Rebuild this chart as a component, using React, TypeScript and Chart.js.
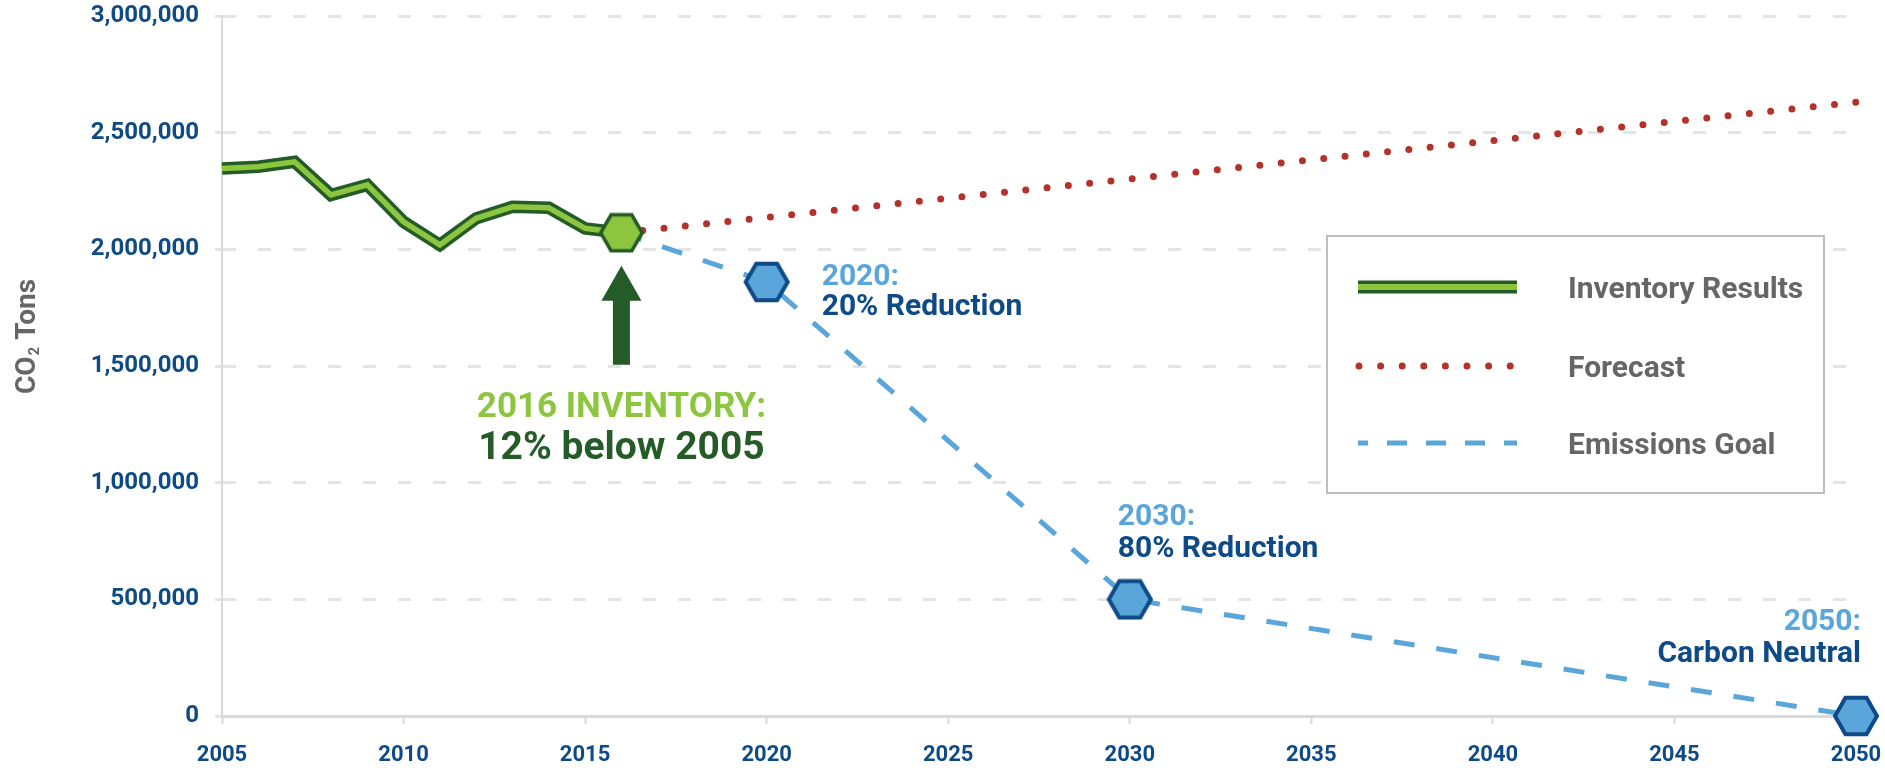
import React, { useEffect, useRef } from 'react';
import { Chart, registerables } from 'chart.js';

Chart.register(...registerables);

// ---------- data ----------
const inventoryYears = [2005, 2006, 2007, 2008, 2009, 2010, 2011, 2012, 2013, 2014, 2015, 2016];
const inventoryValues = [2346000, 2354000, 2375000, 2233000, 2276000, 2118000, 2019000, 2133000, 2182000, 2178000, 2090000, 2071000];
const forecastYears = [2016, 2050];
const forecastValues = [2071000, 2630000];
const goalYears = [2016, 2020, 2030, 2050];
const goalValues = [2071000, 1860000, 500000, 0];
const xTickValues = [2005, 2010, 2015, 2020, 2025, 2030, 2035, 2040, 2045, 2050];
const yTickValues = [0, 500000, 1000000, 1500000, 2000000, 2500000, 3000000];
const legendLabels = ['Inventory Results', 'Forecast', 'Emissions Goal'];
const yAxisTitle = ['CO', '2', ' Tons'];
const inventoryNote = ['2016 INVENTORY:', '12% below 2005'];
const goalNoteHeads = ['2020:', '2030:', '2050:'];
const goalNoteBodies = ['20% Reduction', '80% Reduction', 'Carbon Neutral'];

// ---------- style ----------
const DARK_BLUE = '#0d4a86';
const LIGHT_BLUE = '#5aa6da';
const LIGHT_GREEN = '#8cc63f';
const DARK_GREEN = '#245b27';
const RED = '#b3332b';
const GREY = '#666666';
const FONT = 'Roboto, "Open Sans", "Liberation Sans", sans-serif';
const f = (size: number) => `bold ${size}px ${FONT}`;

function makeHex(r: number, fill: string, stroke: string, lw: number): HTMLCanvasElement {
  const w = Math.ceil(2 * r + 2);
  const h = Math.ceil(Math.sqrt(3) * r + 2);
  const c = document.createElement('canvas');
  c.width = w;
  c.height = h;
  const g = c.getContext('2d')!;
  const cx = w / 2;
  const cy = h / 2;
  const rr = r - lw / 2;
  g.beginPath();
  for (let i = 0; i < 6; i++) {
    const a = (Math.PI / 3) * i;
    const px = cx + rr * Math.cos(a);
    const py = cy + rr * Math.sin(a);
    if (i === 0) g.moveTo(px, py);
    else g.lineTo(px, py);
  }
  g.closePath();
  g.fillStyle = fill;
  g.fill();
  g.lineWidth = lw;
  g.lineJoin = 'miter';
  g.strokeStyle = stroke;
  g.stroke();
  return c;
}

const overlayPlugin = {
  id: 'overlay',
  afterDatasetsDraw(chart: any) {
    const { ctx } = chart;
    const xs = chart.scales.x;
    const ys = chart.scales.y;
    ctx.save();

    // --- arrow under the 2016 inventory point ---
    const last = inventoryYears.length - 1;
    const ax = xs.getPixelForValue(inventoryYears[last]);
    const ay = ys.getPixelForValue(inventoryValues[last]);
    const tip = ay + 33;
    const headBase = tip + 35;
    const shaftEnd = tip + 99;
    ctx.fillStyle = DARK_GREEN;
    ctx.beginPath();
    ctx.moveTo(ax, tip);
    ctx.lineTo(ax + 20, headBase);
    ctx.lineTo(ax + 8.5, headBase);
    ctx.lineTo(ax + 8.5, shaftEnd);
    ctx.lineTo(ax - 8.5, shaftEnd);
    ctx.lineTo(ax - 8.5, headBase);
    ctx.lineTo(ax - 20, headBase);
    ctx.closePath();
    ctx.fill();

    ctx.textAlign = 'center';
    ctx.textBaseline = 'alphabetic';
    ctx.font = f(35);
    ctx.fillStyle = LIGHT_GREEN;
    ctx.fillText(inventoryNote[0], ax, ay + 184);
    ctx.font = f(39);
    ctx.fillStyle = DARK_GREEN;
    ctx.fillText(inventoryNote[1], ax, ay + 226);

    // --- goal notes ---
    const goalIdx = [1, 2, 3];
    const offsets = [
      { dx: 55, h: 3, b: 33, align: 'left' },
      { dx: -12, h: -74, b: -42, align: 'left' },
      { dx: 5, h: -86, b: -54, align: 'right' },
    ];
    goalIdx.forEach((gi, k) => {
      const px = xs.getPixelForValue(goalYears[gi]);
      const py = ys.getPixelForValue(goalValues[gi]);
      const o = offsets[k];
      ctx.textAlign = o.align;
      ctx.font = f(30);
      ctx.fillStyle = LIGHT_BLUE;
      ctx.fillText(goalNoteHeads[k], px + o.dx, py + o.h);
      ctx.fillStyle = DARK_BLUE;
      ctx.fillText(goalNoteBodies[k], px + o.dx, py + o.b);
    });

    // --- legend box ---
    const bx = 1327, by = 236, bw = 497, bh = 257;
    ctx.fillStyle = '#ffffff';
    ctx.fillRect(bx, by, bw, bh);
    ctx.strokeStyle = '#bdbdbd';
    ctx.lineWidth = 2;
    ctx.strokeRect(bx, by, bw, bh);
    const lx0 = 1358, lx1 = 1517;
    const rows = [287, 366, 443];
    // inventory sample
    ctx.lineCap = 'butt';
    ctx.setLineDash([]);
    ctx.strokeStyle = DARK_GREEN;
    ctx.lineWidth = 13;
    ctx.beginPath(); ctx.moveTo(lx0, rows[0]); ctx.lineTo(lx1, rows[0]); ctx.stroke();
    ctx.strokeStyle = LIGHT_GREEN;
    ctx.lineWidth = 6;
    ctx.beginPath(); ctx.moveTo(lx0, rows[0]); ctx.lineTo(lx1, rows[0]); ctx.stroke();
    // forecast sample
    ctx.strokeStyle = RED;
    ctx.lineWidth = 7;
    ctx.lineCap = 'round';
    ctx.setLineDash([0, 21.6]);
    ctx.beginPath(); ctx.moveTo(lx0 + 1, rows[1]); ctx.lineTo(lx1 + 4, rows[1]); ctx.stroke();
    // goal sample
    ctx.strokeStyle = LIGHT_BLUE;
    ctx.lineWidth = 5;
    ctx.lineCap = 'butt';
    ctx.setLineDash([20, 19]);
    ctx.lineDashOffset = 10;
    ctx.beginPath(); ctx.moveTo(lx0, rows[2]); ctx.lineTo(lx1, rows[2]); ctx.stroke();
    ctx.setLineDash([]);
    ctx.lineDashOffset = 0;
    ctx.font = f(30);
    ctx.fillStyle = GREY;
    ctx.textAlign = 'left';
    legendLabels.forEach((t, i) => ctx.fillText(t, 1568, rows[i] + 11));

    // --- y axis title ---
    ctx.save();
    ctx.translate(35, 337);
    ctx.rotate(-Math.PI / 2);
    ctx.fillStyle = GREY;
    ctx.font = f(28);
    const w0 = ctx.measureText(yAxisTitle[0]).width;
    const w2 = ctx.measureText(yAxisTitle[2]).width;
    ctx.font = f(15);
    const w1 = ctx.measureText(yAxisTitle[1]).width;
    const total = w0 + w1 + w2;
    let cx = -total / 2;
    ctx.textAlign = 'left';
    ctx.font = f(28);
    ctx.fillText(yAxisTitle[0], cx, 0);
    cx += w0 + 1;
    ctx.font = f(15);
    ctx.fillText(yAxisTitle[1], cx, 4);
    cx += w1;
    ctx.font = f(28);
    ctx.fillText(yAxisTitle[2], cx, 0);
    ctx.restore();

    ctx.restore();
  },
};

export default function App() {
  const ref = useRef<HTMLCanvasElement | null>(null);

  useEffect(() => {
    if (!ref.current) return;
    const greenHex = makeHex(22.5, LIGHT_GREEN, DARK_GREEN, 3.5);
    const blueHex = makeHex(23, LIGHT_BLUE, DARK_BLUE, 4);
    const lastInv = inventoryYears.length - 1;

    const invPts = inventoryYears.map((yr, i) => ({ x: yr, y: inventoryValues[i] }));
    const chart = new Chart(ref.current, {
      type: 'line',
      data: {
        datasets: [
          {
            label: 'Inventory Results',
            data: invPts,
            borderColor: LIGHT_GREEN,
            borderWidth: 5.5,
            borderJoinStyle: 'miter',
            tension: 0,
            pointRadius: inventoryYears.map((_, i) => (i === lastInv ? 20 : 0)),
            pointHoverRadius: 0,
            pointStyle: greenHex as any,
            clip: false as any,
          },
          {
            label: 'Inventory Results outline',
            data: invPts,
            borderColor: DARK_GREEN,
            borderWidth: 12.5,
            borderJoinStyle: 'miter',
            tension: 0,
            pointRadius: 0,
            clip: false as any,
          },
          {
            label: 'Forecast',
            data: forecastYears.map((yr, i) => ({ x: yr, y: forecastValues[i] })),
            borderColor: RED,
            borderWidth: 7,
            borderDash: [0, 21.4],
            borderCapStyle: 'round',
            tension: 0,
            pointRadius: 0,
            clip: false as any,
          },
          {
            label: 'Emissions Goal',
            data: goalYears.map((yr, i) => ({ x: yr, y: goalValues[i] })),
            borderColor: LIGHT_BLUE,
            borderWidth: 5,
            borderDash: [21, 22],
            borderCapStyle: 'butt',
            tension: 0,
            pointRadius: goalYears.map((_, i) => (i === 0 ? 0 : 20)),
            pointHoverRadius: 0,
            pointStyle: blueHex as any,
            clip: false as any,
          },
        ],
      },
      options: {
        animation: false,
        responsive: false,
        events: [],
        layout: { autoPadding: false, padding: { left: 0, right: 29, top: 16, bottom: 0 } },
        plugins: {
          legend: { display: false },
          tooltip: { enabled: false },
          title: { display: false },
        },
        scales: {
          x: {
            type: 'linear',
            min: 2005,
            max: 2050,
            afterBuildTicks: (s: any) => {
              s.ticks = xTickValues.map((v) => ({ value: v }));
            },
            afterFit: (s: any) => {
              s.height = 52;
              s.paddingLeft = 0;
              s.paddingRight = 0;
            },
            ticks: {
              callback: (v: any) => String(v),
              color: DARK_BLUE,
              font: { family: FONT, weight: 'bold', size: 22 },
              padding: 18,
              maxRotation: 0,
              autoSkip: false,
            },
            grid: {
              drawOnChartArea: false,
              drawTicks: true,
              tickLength: 8,
              tickColor: '#d9d9d9',
              tickWidth: 2,
            },
            border: { display: true, color: '#d9d9d9', width: 3 },
          },
          y: {
            type: 'linear',
            min: 0,
            max: 3000000,
            afterBuildTicks: (s: any) => {
              s.ticks = yTickValues.map((v) => ({ value: v }));
            },
            afterFit: (s: any) => {
              s.width = 222;
              s.paddingTop = 0;
              s.paddingBottom = 0;
            },
            ticks: {
              callback: (v: any) => Number(v).toLocaleString('en-US'),
              color: DARK_BLUE,
              font: { family: FONT, weight: 'bold', size: 24 },
              padding: 16,
            },
            grid: {
              color: '#e4e4e4',
              lineWidth: 3,
              drawTicks: true,
              tickLength: 7,
              tickColor: '#e4e4e4',
              tickWidth: 3,
            },
            border: { display: true, color: '#d9d9d9', width: 2, dash: [13, 22] },
          },
        },
      } as any,
      plugins: [overlayPlugin],
    });
    return () => chart.destroy();
  }, []);

  return (
    <div style={{ position: 'fixed', left: 0, top: 0, width: 1885, height: 768, background: '#ffffff' }}>
      <canvas ref={ref} width={1885} height={768} style={{ width: 1885, height: 768, display: 'block' }} />
    </div>
  );
}
